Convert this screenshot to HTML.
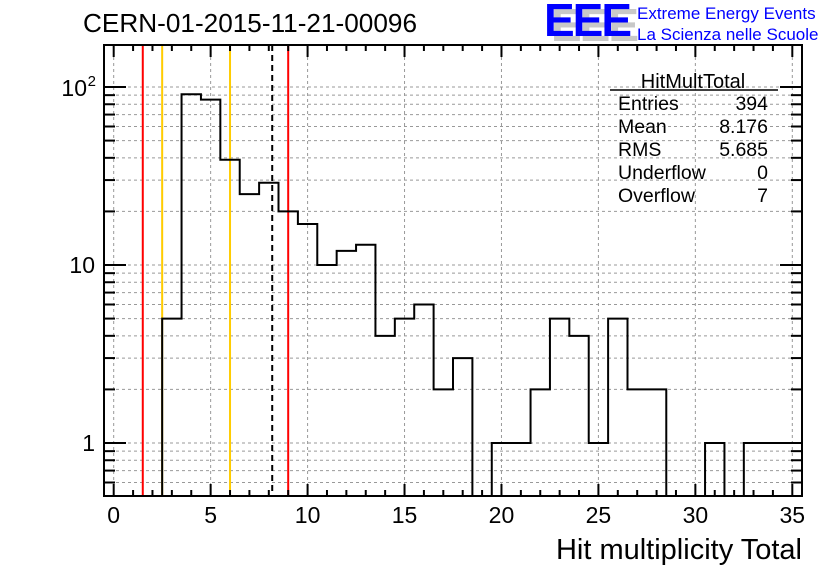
<!DOCTYPE html>
<html><head><meta charset="utf-8"><style>
body{margin:0;background:#fff}
svg{display:block;font-family:"Liberation Sans",sans-serif}
</style></head><body>
<svg id="c" width="836" height="572"></svg>
<script>
const binCenters=[0,1,2,3,4,5,6,7,8,9,10,11,12,13,14,15,16,17,18,19,20,21,22,23,24,25,26,27,28,29,30,31,32,33,34,35];
const binCounts=[0,0,0,5,91,85,39,25,29,20,17,10,12,13,4,5,6,2,3,0,1,1,2,5,4,1,5,2,2,0,0,1,0,1,1,1];
const xTicks=[0,5,10,15,20,25,30,35];
const yTicks=[1,10,100];
const vLines=[{x:1.5,c:"#ff0000",d:""},{x:2.5,c:"#ffcc00",d:""},{x:6,c:"#ffcc00",d:""},{x:8.176,c:"#000",d:"6,4"},{x:9,c:"#ff0000",d:""}];
const statLabels=["Entries","Mean","RMS","Underflow","Overflow"];
const statValues=["394","8.176","5.685","0","7"];

const L=104,R=802,T=45,B=496;
const X=v=>L+(v+0.5)*(R-L)/36;
const Y=v=>443-178*Math.log10(v);
const s=document.getElementById('c');
const NS="http://www.w3.org/2000/svg";
function mk(t,a,p){const e=document.createElementNS(NS,t);for(const k in a)e.setAttribute(k,a[k]);(p||s).appendChild(e);return e;}

for(const t of xTicks){const g=mk('line',{x1:X(t),x2:X(t),y1:T,y2:B,stroke:'#999','stroke-dasharray':'3,3','stroke-width':1});

}
for(let d=0.1;d<=100;d*=10)for(let m=1;m<=9;m++){const v=d*m;const y=Y(v);if(y<T||y>B)continue;
const g=mk('line',{x1:L,x2:R,y1:y,y2:y,stroke:'#999','stroke-dasharray':'3,3','stroke-width':1});

}

for(const v of vLines){const l=mk('line',{x1:X(v.x),x2:X(v.x),y1:T,y2:B,stroke:v.c,'stroke-width':2,'stroke-dasharray':v.d});

}

let pts=[];const yb=B;
for(let i=0;i<binCenters.length;i++){const x0=X(binCenters[i]-0.5),x1=X(binCenters[i]+0.5);
const y=binCounts[i]>0?Math.max(T,Math.min(B,Y(binCounts[i]))):yb;pts.push(x0+','+y,x1+','+y);}
const h=mk('polyline',{points:pts.join(' '),fill:'none',stroke:'#000','stroke-width':2});



const f=mk('rect',{x:L,y:T,width:R-L,height:B-T,fill:'none',stroke:'#000','stroke-width':2});



for(let v=0;v<=35;v++){const maj=v%5==0;const len=maj?12:6;const x=X(v);
mk('line',{x1:x,x2:x,y1:B,y2:B-len,stroke:'#000','stroke-width':2});
mk('line',{x1:x,x2:x,y1:T,y2:T+len,stroke:'#000','stroke-width':2});}
for(const t of xTicks){const tx=mk('text',{x:X(t),y:523,'font-size':23,'text-anchor':'middle'});tx.textContent=t;

}
for(let d=0.1;d<=100;d*=10)for(let m=1;m<=9;m++){const v=d*m;const y=Y(v);if(y<T||y>B)continue;const len=m==1?22:11;
mk('line',{x1:L,x2:L+len,y1:y,y2:y,stroke:'#000','stroke-width':2});
mk('line',{x1:R,x2:R-len,y1:y,y2:y,stroke:'#000','stroke-width':2});}
const yl=["1","10"];
for(let i=0;i<2;i++){const tx=mk('text',{x:95,y:Y(yTicks[i])+8,'font-size':23,'text-anchor':'end'});tx.textContent=yl[i];

}
const t100=mk('text',{x:87,y:Y(yTicks[2])+9,'font-size':23,'text-anchor':'end'});t100.textContent='10';


const sup=mk('text',{x:96,y:Y(yTicks[2])-1,'font-size':15,'text-anchor':'end'});sup.textContent='2';

const ti=mk('text',{x:83,y:32,'font-size':26,textLength:334,lengthAdjust:'spacingAndGlyphs'});ti.textContent='CERN-01-2015-11-21-00096';


const xt=mk('text',{x:802,y:559,'font-size':29,'text-anchor':'end'});xt.textContent='Hit multiplicity Total';



const lg=mk('g',{});
mk('text',{x:551,y:41,'font-size':46,'font-weight':'bold',fill:'#c8c8c8','letter-spacing':'-2'},lg).textContent='EEE';
mk('text',{x:544,y:36,'font-size':46,'font-weight':'bold',fill:'#0000ff','letter-spacing':'-2'},lg).textContent='EEE';
mk('text',{x:637,y:19,'font-size':17,fill:'#0000ff'},lg).textContent='Extreme Energy Events';
mk('text',{x:637,y:40,'font-size':17,fill:'#0000ff'},lg).textContent='La Scienza nelle Scuole';

const sb=mk('g',{});
mk('text',{x:693,y:88,'font-size':20,'text-anchor':'middle'},sb).textContent='HitMultTotal';
mk('line',{x1:610,x2:778,y1:90,y2:90,stroke:'#000','stroke-width':1.5},sb);
for(let i=0;i<statLabels.length;i++){const y=110+i*23;
mk('text',{x:618,y:y,'font-size':19.5},sb).textContent=statLabels[i];
mk('text',{x:768,y:y,'font-size':19.5,'text-anchor':'end'},sb).textContent=statValues[i];}
</script>
</body></html>
